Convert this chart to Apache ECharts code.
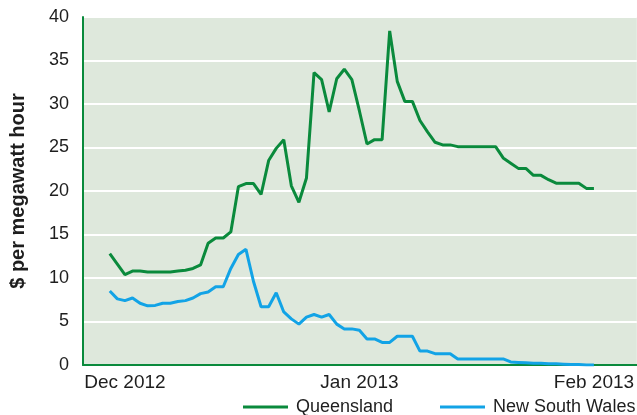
<!DOCTYPE html>
<html>
<head>
<meta charset="utf-8">
<script src="https://cdn.jsdelivr.net/npm/echarts@6/dist/echarts.min.js"></script>
<style>
  html, body { margin: 0; padding: 0; background: #fff; }
  #chart { width: 637px; height: 415px; }
</style>
</head>
<body>
<div id="chart"></div>
<script>
// daily values, first point is 29 Nov 2012 (day -2 counted from 1 Dec)
var firstDay = -2;
var queensland = [12.8, 11.6, 10.4, 10.8, 10.8, 10.7, 10.7, 10.7, 10.7, 10.8,
  10.9, 11.1, 11.5, 14.0, 14.6, 14.6, 15.3, 20.5, 20.85, 20.85,
  19.6, 23.5, 24.9, 25.9, 20.6, 18.7, 21.5, 33.6, 32.8, 29.1,
  32.9, 34.0, 32.8, 29.2, 25.4, 25.9, 25.9, 38.4, 32.6, 30.3,
  30.3, 28.1, 26.8, 25.6, 25.3, 25.3, 25.1, 25.1, 25.1, 25.1,
  25.1, 25.1, 23.8, 23.2, 22.6, 22.6, 21.8, 21.8, 21.3, 20.9,
  20.9, 20.9, 20.9, 20.3, 20.3];
var nsw = [8.5, 7.6, 7.4, 7.7, 7.1, 6.8, 6.85, 7.1, 7.1, 7.3,
  7.4, 7.7, 8.2, 8.4, 9.0, 9.0, 11.1, 12.7, 13.3, 9.6,
  6.7, 6.7, 8.3, 6.1, 5.3, 4.7, 5.5, 5.8, 5.5, 5.8,
  4.7, 4.15, 4.15, 4.0, 3.0, 3.0, 2.6, 2.6, 3.3, 3.3,
  3.3, 1.6, 1.6, 1.3, 1.3, 1.3, 0.7, 0.7, 0.7, 0.7,
  0.7, 0.7, 0.7, 0.35, 0.3, 0.25, 0.2, 0.2, 0.15, 0.15,
  0.1, 0.05, 0.05, 0.0, 0.0];
var tickDays = [0, 31, 62];
var tickLabels = ['Dec 2012', 'Jan 2013', 'Feb 2013'];
var seriesNames = ['Queensland', 'New South Wales'];

function pairs(vals) {
  return vals.map(function (v, i) { return [firstDay + i, v]; });
}

var green = '#0a8a3c';
var blue = '#12a3e6';
var textColor = '#1e1e1e';
var font = 'Liberation Sans, Arial, sans-serif';

function legendFor(name, left) {
  return {
    data: [name],
    left: left, top: 398, padding: 0,
    icon: 'rect', itemWidth: 45, itemHeight: 3, itemGap: 8,
    textStyle: { color: textColor, fontSize: 18, fontFamily: font, padding: [0, 0, 0, 3] }
  };
}

var myChart = echarts.init(document.getElementById('chart'));
var option = {
  animation: false,
  textStyle: { fontFamily: font },
  grid: {
    left: 82, right: 0, top: 17, bottom: 50,
    show: true, backgroundColor: '#dee8dc', borderWidth: 0
  },
  legend: [legendFor(seriesNames[0], 243), legendFor(seriesNames[1], 440)],
  xAxis: {
    type: 'value',
    min: -5.54, max: 67.67,
    axisLine: { show: true, lineStyle: { color: green, width: 2 } },
    axisTick: { show: false },
    splitLine: { show: false },
    axisLabel: {
      customValues: tickDays,
      color: textColor, fontSize: 19, margin: 8,
      formatter: function (v) {
        var i = tickDays.indexOf(v);
        return i >= 0 ? tickLabels[i] : '';
      }
    }
  },
  yAxis: {
    type: 'value',
    min: 0, max: 40, interval: 5,
    name: '$ per megawatt hour',
    nameLocation: 'middle', nameGap: 55,
    nameTextStyle: { color: textColor, fontSize: 20, fontWeight: 'bold', fontFamily: font },
    axisLine: { show: true, onZero: false, lineStyle: { color: green, width: 2 } },
    axisTick: { show: false },
    axisLabel: { color: textColor, fontSize: 18, margin: 14 },
    splitLine: { lineStyle: { color: '#ffffff', width: 2 } }
  },
  series: [
    {
      name: seriesNames[0], type: 'line', symbol: 'none',
      data: pairs(queensland),
      lineStyle: { color: green, width: 3 }, itemStyle: { color: green }
    },
    {
      name: seriesNames[1], type: 'line', symbol: 'none',
      data: pairs(nsw),
      lineStyle: { color: blue, width: 3 }, itemStyle: { color: blue }
    }
  ]
};
myChart.setOption(option);
</script>
</body>
</html>
